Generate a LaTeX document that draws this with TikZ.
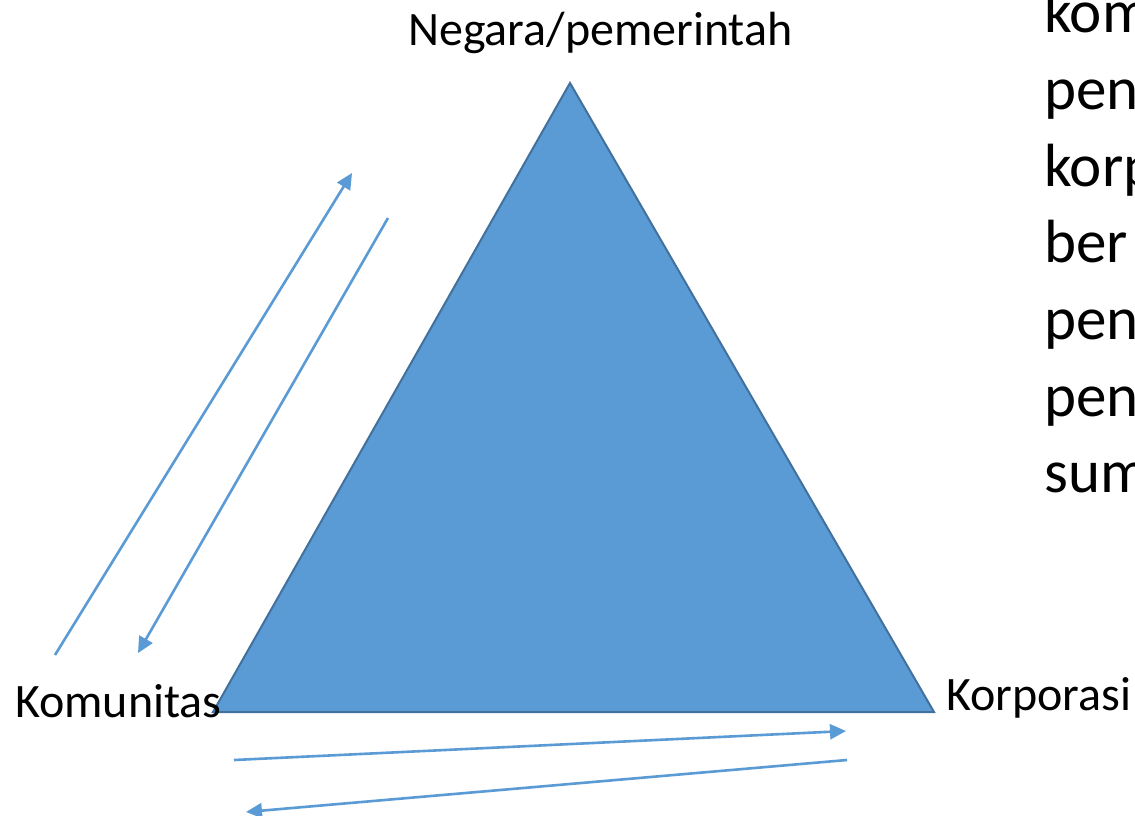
\documentclass[tikz,border=0pt]{standalone}
\usepackage{fontspec}
\setmainfont{Carlito}
\usetikzlibrary{arrows.meta}
\definecolor{tri}{HTML}{5B9BD5}
\definecolor{triedge}{HTML}{41719C}
\begin{document}
\begin{tikzpicture}[x=1pt,y=-1pt,
  lbl/.style={inner sep=0pt,anchor=base west,font=\fontsize{48}{57}\selectfont},
  big/.style={inner sep=0pt,anchor=base west,font=\fontsize{61}{73}\selectfont},
  flow/.style={draw=tri,line width=2.6pt,-{Triangle[length=16pt,width=15pt]}}]
\path[use as bounding box] (0,0) rectangle (1135,816);
\fill[white] (0,0) rectangle (1135,816);
% triangle
\coordinate (top) at (570,83);
\coordinate (bl) at (213,712);
\coordinate (br) at (934,712);
\filldraw[fill=tri,draw=triedge,line width=2pt,line join=miter] (top) -- (bl) -- (br) -- cycle;
% labels
\node[lbl] (neg) at (408,46) {Negara/pemerintah};
\node[lbl] (kom) at (15,717) {Komunitas};
\node[lbl] (kor) at (946,710) {Korporasi};
% arrows
\coordinate (a1s) at (55,655);
\coordinate (a1e) at (352,173);
\coordinate (a2s) at (388,218);
\coordinate (a2e) at (138,653);
\coordinate (a3s) at (234,760);
\coordinate (a3e) at (846,731);
\coordinate (a4s) at (847,760);
\coordinate (a4e) at (246,812);
\draw[flow] (a1s) -- (a1e);
\draw[flow] (a2s) -- (a2e);
\draw[flow] (a3s) -- (a3e);
\draw[flow] (a4s) -- (a4e);
% right text, cut off at the picture's edge as in the reference
\begin{scope}
\clip (0,0) rectangle (1135,816);
\node[big] (t1) at (1044,33) {kom};
\node[big] (t2) at (1044,109) {pen};
\node[big] (t3) at (1044,186) {korp};
\node[big] (t4) at (1044,262) {ber};
\node[big] (t5) at (1044,339) {pen};
\node[big] (t6) at (1044,416) {pen};
\node[big] (t7) at (1044,492) {sum};
\end{scope}
\end{tikzpicture}
\end{document}
